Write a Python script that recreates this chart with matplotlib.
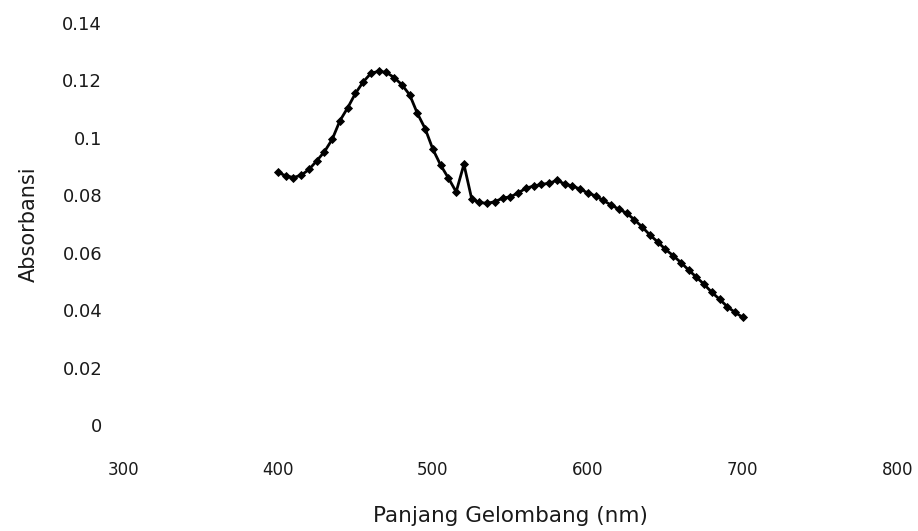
import matplotlib
matplotlib.use("Agg")
import matplotlib.pyplot as plt

# wavelength (nm) and absorbance
wavelength = [
    400, 405, 410, 415, 420, 425, 430, 435, 440, 445,
    450, 455, 460, 465, 470, 475, 480, 485, 490, 495,
    500, 505, 510, 515, 520, 525, 530, 535, 540, 545,
    550, 555, 560, 565, 570, 575, 580, 585, 590, 595,
    600, 605, 610, 615, 620, 625, 630, 635, 640, 645,
    650, 655, 660, 665, 670, 675, 680, 685, 690, 695, 700,
]
absorbance = [
    0.0880, 0.0868, 0.0862, 0.0870, 0.0890, 0.0920, 0.0952, 0.0995, 0.1060, 0.1105,
    0.1155, 0.1195, 0.1225, 0.1232, 0.1228, 0.1210, 0.1185, 0.1150, 0.1085, 0.1032,
    0.0960, 0.0905, 0.0860, 0.0812, 0.0908, 0.0788, 0.0775, 0.0772, 0.0778, 0.0790,
    0.0795, 0.0808, 0.0825, 0.0832, 0.0838, 0.0842, 0.0852, 0.0840, 0.0832, 0.0822,
    0.0808, 0.0798, 0.0782, 0.0766, 0.0752, 0.0738, 0.0715, 0.0690, 0.0662, 0.0638,
    0.0612, 0.0590, 0.0566, 0.0540, 0.0515, 0.0490, 0.0462, 0.0438, 0.0412, 0.0392, 0.0375,
]
x_ticks = [300, 400, 500, 600, 700, 800]
y_ticks = [0, 0.02, 0.04, 0.06, 0.08, 0.10, 0.12, 0.14]
y_labels = ["0", "0.02", "0.04", "0.06", "0.08", "0.1", "0.12", "0.14"]

plt.rcParams["font.family"] = ["DejaVu Sans"]

fig = plt.figure(figsize=(9.18, 5.31), dpi=100)
ax = fig.add_axes([0.134, 0.1996, 0.844, 0.757])

ax.plot(wavelength, absorbance, color="black", lw=2.0,
        marker="D", markersize=3.8, markeredgewidth=0.6)

ax.set_xlim(300, 800)
ax.set_ylim(0, 0.14)
ax.set_xticks(x_ticks)
ax.set_xticklabels([str(t) for t in x_ticks])
ax.set_yticks(y_ticks)
ax.set_yticklabels(y_labels)

for side in ("top", "right", "bottom", "left"):
    ax.spines[side].set_visible(False)
ax.tick_params(axis="x", length=0, pad=26, labelsize=12, colors="#1a1a1a")
ax.tick_params(axis="y", length=0, pad=15, labelsize=13, colors="#1a1a1a")

ax.set_xlabel("Panjang Gelombang (nm)", fontsize=15.5, color="#1a1a1a", labelpad=19)
ax.set_ylabel("Absorbansi", fontsize=15, color="#1a1a1a", labelpad=17)

fig.savefig("out.png", dpi=100, facecolor="white")
